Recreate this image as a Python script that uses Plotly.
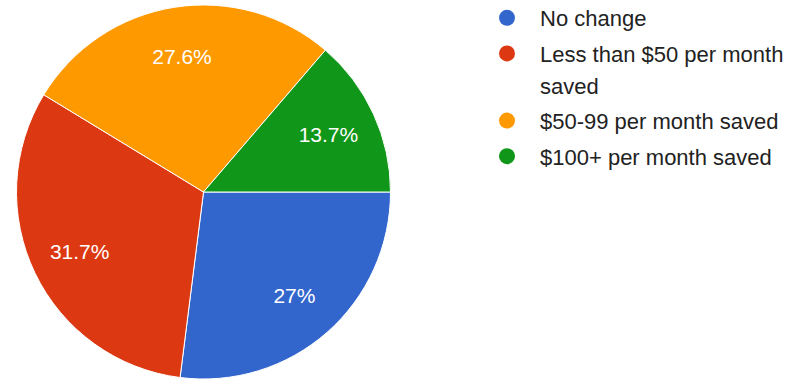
import plotly.graph_objects as go

labels = ["No change", "Less than $50 per month<br>saved", "$50-99 per month saved", "$100+ per month saved"]
values = [27.0, 31.7, 27.6, 13.7]
pct_text = ["27%", "31.7%", "27.6%", "13.7%"]
colors = ["#3366cc", "#dc3912", "#ff9900", "#109618"]
# legend entries (the second category wraps onto a second line)
legend_lines = [["No change"], ["Less than $50 per month", "saved"],
                ["$50-99 per month saved"], ["$100+ per month saved"]]

W, H = 809, 379
dom = dict(x=[16 / W, 391 / W], y=[0, 374 / H])
font_family = "Liberation Sans, Arial, sans-serif"

fig = go.Figure()
# the filled pie
fig.add_trace(go.Pie(
    labels=labels, values=values,
    textinfo="none", sort=False, direction="clockwise", rotation=90,
    marker=dict(colors=colors, line=dict(color="white", width=1)),
    showlegend=False, hoverinfo="label+percent",
    domain=dom,
))
# transparent ring carrying the percentage labels further out
fig.add_trace(go.Pie(
    labels=labels, values=values, text=pct_text, hole=0.47,
    textinfo="text", sort=False, direction="clockwise", rotation=90,
    marker=dict(colors=["rgba(0,0,0,0)"] * 4, line=dict(width=0)),
    textposition="inside", insidetextorientation="horizontal",
    textfont=dict(family=font_family, size=21, color="white"),
    showlegend=False, hoverinfo="skip",
    domain=dom,
))

for i, (lines, col) in enumerate(zip(legend_lines, colors)):
    for j, line in enumerate(lines):
        fig.add_trace(go.Scatter(
            x=[None], y=[None], mode="markers", name=line,
            marker=dict(color=col if j == 0 else "rgba(0,0,0,0)", size=16, symbol="circle"),
            legendgroup=str(i), showlegend=True,
        ))

fig.update_layout(
    width=W, height=H,
    margin=dict(l=0, r=0, t=0, b=0, autoexpand=False),
    paper_bgcolor="white", plot_bgcolor="white",
    xaxis=dict(visible=False), yaxis=dict(visible=False),
    legend=dict(
        x=474 / W, y=1.0 + 3 / H, xanchor="left", yanchor="top",
        font=dict(family=font_family, size=22, color="#222222"),
        itemwidth=56, tracegroupgap=4, bgcolor="rgba(0,0,0,0)",
    ),
)

fig.write_html("out.html")
